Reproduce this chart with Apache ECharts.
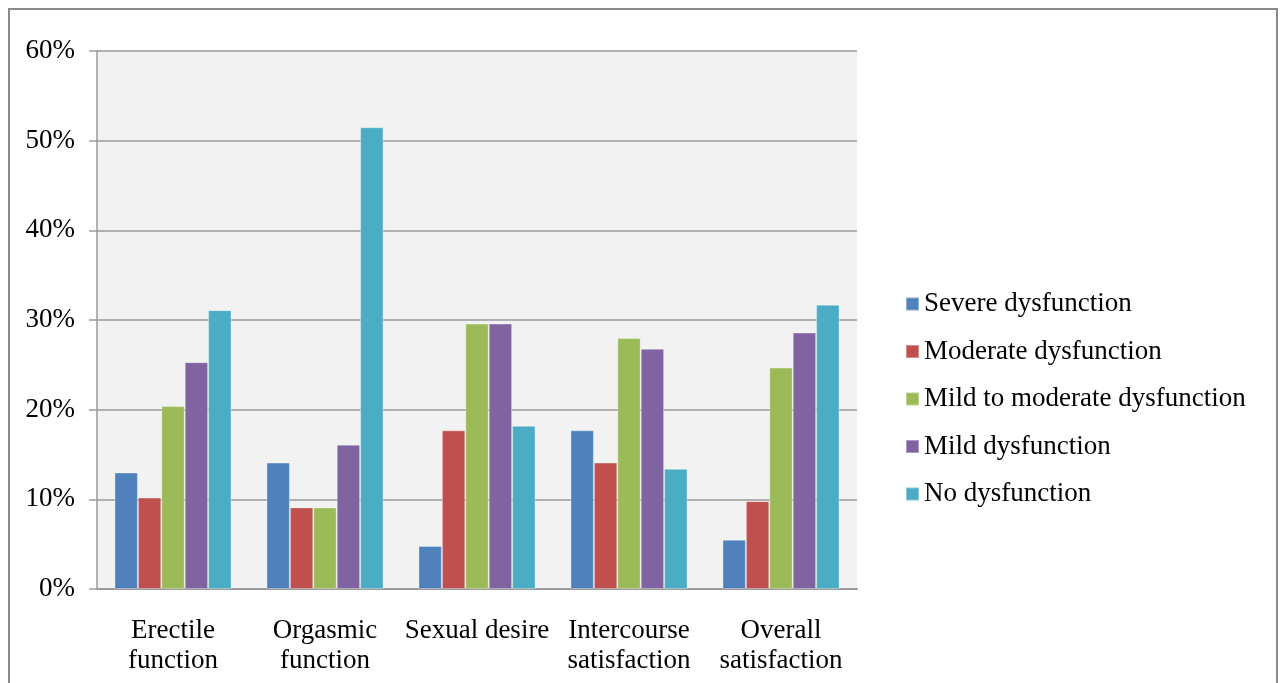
<!DOCTYPE html>
<html>
<head>
<meta charset="utf-8">
<style>
  html, body { margin: 0; padding: 0; background: #ffffff; }
  #chart { width: 1282px; height: 683px; }
</style>
<script src="https://cdn.jsdelivr.net/npm/echarts@6/dist/echarts.min.js"></script>
</head>
<body>
<div id="chart"></div>
<script>
// Domains of sexual function
const categories = [
  'Erectile\nfunction',
  'Orgasmic\nfunction',
  'Sexual desire',
  'Intercourse\nsatisfaction',
  'Overall\nsatisfaction'
];

// Share of respondents (%) per severity level
const severe        = [13.0, 14.1,  4.8, 17.7,  5.5];
const moderate      = [10.2,  9.1, 17.7, 14.1,  9.8];
const mildToModerate= [20.4,  9.1, 29.6, 28.0, 24.7];
const mild          = [25.3, 16.1, 29.6, 26.8, 28.6];
const none          = [31.1, 51.5, 18.2, 13.4, 31.7];

const seriesNames = [
  'Severe dysfunction',
  'Moderate dysfunction',
  'Mild to moderate dysfunction',
  'Mild dysfunction',
  'No dysfunction'
];
const seriesData = [severe, moderate, mildToModerate, mild, none];
const colors = ['#4F81BD', '#C0504D', '#9BBB59', '#8064A2', '#4BACC6'];

const yTicks = { min: 0, max: 60, step: 10 };

const FONT = '"Liberation Serif", "Times New Roman", serif';

const chart = echarts.init(document.getElementById('chart'), null, { renderer: 'canvas' });

chart.setOption({
  animation: false,
  color: colors,
  textStyle: { fontFamily: FONT, color: '#000' },
  graphic: [{
    type: 'rect',
    silent: true,
    z: 100,
    shape: { x: 9, y: 9, width: 1268, height: 700 },
    style: { fill: 'none', stroke: '#8a8a8a', lineWidth: 2 }
  }],
  grid: {
    left: 97, right: 425, top: 51, bottom: 94,
    show: true,
    backgroundColor: '#F2F2F2',
    borderWidth: 0
  },
  legend: {
    orient: 'vertical',
    left: 905,
    top: 289,
    padding: 0,
    icon: 'rect',
    itemWidth: 13,
    itemHeight: 13,
    itemGap: 17.5,
    textStyle: { fontFamily: FONT, fontSize: 27, color: '#000', lineHeight: 30 },
    data: seriesNames
  },
  xAxis: {
    type: 'category',
    data: categories,
    axisLine: { show: true, lineStyle: { color: '#9a9a9a', width: 2 } },
    axisTick: { show: false },
    axisLabel: {
      fontFamily: FONT, fontSize: 27, color: '#000',
      lineHeight: 30, margin: 27, interval: 0
    }
  },
  yAxis: {
    type: 'value',
    min: yTicks.min,
    max: yTicks.max,
    interval: yTicks.step,
    axisLine: { show: true, lineStyle: { color: '#9a9a9a', width: 1.5 } },
    axisTick: { show: true, inside: false, length: 8, lineStyle: { color: '#9a9a9a', width: 1.5 } },
    axisLabel: {
      fontFamily: FONT, fontSize: 27, color: '#000', margin: 22,
      formatter: '{value}%'
    },
    splitLine: { show: true, lineStyle: { color: '#9a9a9a', width: 1.5 } }
  },
  series: seriesData.map((d, i) => ({
    name: seriesNames[i],
    type: 'bar',
    data: d,
    barGap: '0%',
    barCategoryGap: '23%',
    itemStyle: { color: colors[i], borderColor: 'rgba(255,255,255,0.35)', borderWidth: 1 }
  }))
});
</script>
</body>
</html>
